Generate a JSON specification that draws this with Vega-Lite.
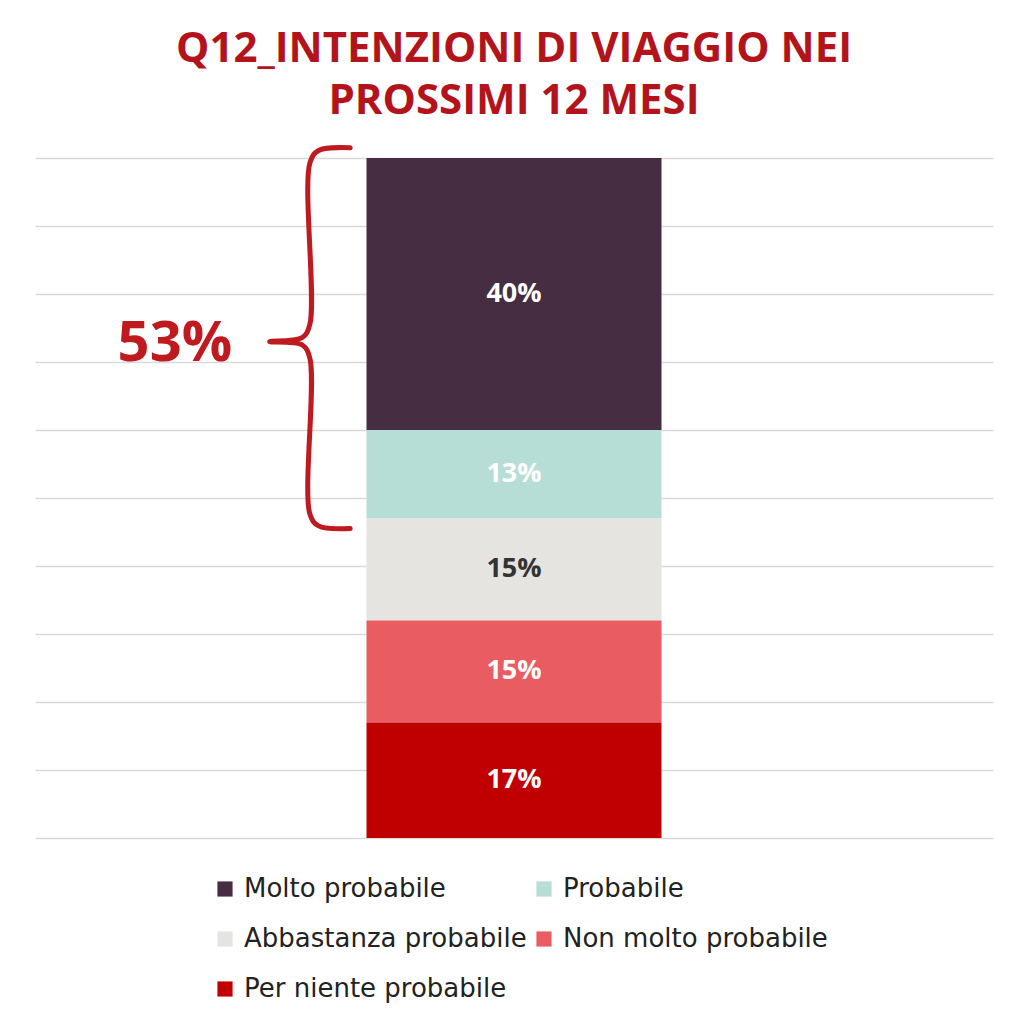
{
  "$schema": "https://vega.github.io/schema/vega-lite/v6.json",
  "description": "Q12 intenzioni di viaggio nei prossimi 12 mesi: barra impilata al 100%.",
  "width": 958,
  "height": 680,
  "padding": {"left": 35, "right": 31, "top": 28, "bottom": 10},
  "background": "white",
  "title": {
    "text": ["Q12_INTENZIONI DI VIAGGIO NEI", "PROSSIMI 12 MESI"],
    "font": "Open Sans",
    "fontSize": 42,
    "fontWeight": "bold",
    "color": "#B3141C",
    "lineHeight": 52,
    "offset": 22,
    "anchor": "middle"
  },
  "datasets": {
    "risposte": [
      {"domanda": "Q12", "risposta": "Molto probabile", "valore": 40, "etichetta": "40%", "ordine": 1},
      {"domanda": "Q12", "risposta": "Probabile", "valore": 13, "etichetta": "13%", "ordine": 2},
      {"domanda": "Q12", "risposta": "Abbastanza probabile", "valore": 15, "etichetta": "15%", "ordine": 3},
      {"domanda": "Q12", "risposta": "Non molto probabile", "valore": 15, "etichetta": "15%", "ordine": 4},
      {"domanda": "Q12", "risposta": "Per niente probabile", "valore": 17, "etichetta": "17%", "ordine": 5}
    ],
    "graffa": [
      {"i": 1, "px": 32.9, "py": 101.5},
      {"i": 2, "px": 29.6, "py": 101.1},
      {"i": 3, "px": 28.7, "py": 99.3},
      {"i": 4, "px": 28.7, "py": 75.6},
      {"i": 5, "px": 27.9, "py": 73.6},
      {"i": 6, "px": 24.5, "py": 73.0},
      {"i": 7, "px": 27.9, "py": 72.5},
      {"i": 8, "px": 28.7, "py": 70.5},
      {"i": 9, "px": 28.7, "py": 47.6},
      {"i": 10, "px": 29.6, "py": 45.9},
      {"i": 11, "px": 32.9, "py": 45.5}
    ],
    "totale": [
      {"px": 14.6, "py": 72.6, "testo": "53%"}
    ]
  },
  "layer": [
    {
      "data": {"name": "risposte"},
      "mark": {"type": "bar", "width": 295},
      "encoding": {
        "x": {"field": "domanda", "type": "nominal", "axis": null},
        "y": {
          "field": "valore",
          "type": "quantitative",
          "stack": "zero",
          "title": null,
          "scale": {"domain": [0, 100], "nice": false}
        },
        "color": {
          "field": "risposta",
          "type": "nominal",
          "sort": ["Molto probabile", "Probabile", "Abbastanza probabile", "Non molto probabile", "Per niente probabile"],
          "scale": {
            "domain": ["Molto probabile", "Probabile", "Abbastanza probabile", "Non molto probabile", "Per niente probabile"],
            "range": ["#472D42", "#B6DDD6", "#E6E4E0", "#E85C62", "#C00000"]
          },
          "legend": {
            "title": null,
            "orient": "none",
            "legendX": 177,
            "legendY": 718,
            "direction": "horizontal",
            "columns": 2,
            "symbolType": "square",
            "symbolSize": 230,
            "symbolStrokeWidth": 0,
            "labelFont": "DejaVu Sans",
            "labelFontSize": 26,
            "labelColor": "#222222",
            "labelOffset": 6,
            "labelLimit": 400,
            "rowPadding": 24,
            "columnPadding": 4
          }
        },
        "order": {"field": "ordine", "sort": "descending"}
      }
    },
    {
      "data": {"name": "risposte"},
      "transform": [
        {"stack": "valore", "groupby": ["domanda"], "sort": [{"field": "ordine", "order": "descending"}], "as": ["inizio", "fine"]},
        {"calculate": "(datum.inizio + datum.fine) / 2", "as": "centro"}
      ],
      "mark": {"type": "text", "font": "Open Sans", "fontSize": 27, "fontWeight": "bold", "baseline": "middle"},
      "encoding": {
        "x": {"field": "domanda", "type": "nominal", "axis": null},
        "y": {"field": "centro", "type": "quantitative", "title": null},
        "text": {"field": "etichetta"},
        "color": {
          "condition": {"test": "datum.risposta === 'Abbastanza probabile'", "value": "#333333"},
          "value": "#FFFFFF"
        }
      }
    },
    {
      "data": {"name": "graffa"},
      "mark": {"type": "line", "color": "#BE1A1F", "strokeWidth": 5, "interpolate": "catmull-rom", "strokeCap": "round", "strokeJoin": "round", "clip": false},
      "encoding": {
        "x": {"field": "px", "type": "quantitative", "axis": null, "scale": {"domain": [0, 100], "nice": false, "zero": false}},
        "y": {"field": "py", "type": "quantitative", "title": null},
        "order": {"field": "i"}
      }
    },
    {
      "data": {"name": "totale"},
      "mark": {"type": "text", "font": "Open Sans", "fontSize": 56, "fontWeight": "bold", "color": "#BE1A1F", "baseline": "middle", "align": "center"},
      "encoding": {
        "x": {"field": "px", "type": "quantitative", "axis": null, "scale": {"domain": [0, 100], "nice": false, "zero": false}},
        "y": {"field": "py", "type": "quantitative", "title": null},
        "text": {"field": "testo"}
      }
    }
  ],
  "resolve": {"scale": {"x": "independent"}},
  "config": {
    "view": {"stroke": null},
    "axisY": {
      "labels": false,
      "ticks": false,
      "domain": false,
      "grid": true,
      "gridColor": "#D9D9D9",
      "gridWidth": 1.5,
      "tickCount": 10
    }
  }
}
